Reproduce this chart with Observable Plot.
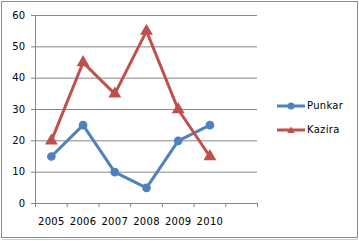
<!DOCTYPE html>
<html><head><meta charset="utf-8">
<script src="https://cdn.jsdelivr.net/npm/d3@7"></script>
<script src="https://cdn.jsdelivr.net/npm/@observablehq/plot@0.6"></script>
<style>
body{margin:0;background:#fff;}
#wrap{position:relative;width:359px;height:241px;overflow:hidden;font-family:"DejaVu Sans",sans-serif;}
#frame{position:absolute;left:1px;top:1px;width:355px;height:235px;border:1px solid #8c8c8c;}
#shadow{position:absolute;left:2px;top:239px;width:356px;height:1px;background:#d0d0d0;}
#chart{position:absolute;left:0;top:0;}
.leg{position:absolute;left:277px;font-size:10px;line-height:12px;display:flex;align-items:center;letter-spacing:0.3px;}
.leg span{margin-left:1px;}
</style></head>
<body><div id="wrap"><div id="frame"></div><div id="shadow"></div><div id="chart"></div><div id="legend"></div></div>
<script>
const years = [2005, 2006, 2007, 2008, 2009, 2010];
const punkar = [15, 25, 10, 5, 20, 25];
const kazira = [20, 45, 35, 55, 30, 15];
const seriesNames = ["Punkar", "Kazira"];
const colors = ["#4F81BD", "#C0504D"];
const yTicks = [0, 10, 20, 30, 40, 50, 60];

const data = [
  ...years.map((y, i) => ({year: y, value: punkar[i], s: seriesNames[0]})),
  ...years.map((y, i) => ({year: y, value: kazira[i], s: seriesNames[1]}))
];
const bounds = d3.range(years[0] - 0.5, years[years.length - 1] + 1.6, 1);
const gridCol = "#868686";

const chart = Plot.plot({
  width: 359, height: 241,
  marginLeft: 35, marginRight: 102, marginTop: 15, marginBottom: 38,
  style: {fontFamily: "DejaVu Sans", fontSize: "10px", color: "#000", background: "transparent", letterSpacing: "0.3px"},
  x: {type: "linear", domain: [bounds[0], bounds[bounds.length - 1]], axis: null},
  y: {domain: [0, 60], axis: null},
  marks: [
    Plot.ruleY(yTicks.slice(1), {stroke: gridCol, strokeWidth: 1}),
    Plot.ruleY([0], {stroke: gridCol}),
    Plot.ruleX([bounds[0]], {y1: 0, y2: 60, stroke: gridCol}),
    Plot.axisY({ticks: yTicks, tickSize: 4, tickPadding: 6, stroke: gridCol, fill: "#000", label: null, tickFormat: d => d}),
    Plot.axisX({ticks: bounds, tickSize: 4, stroke: gridCol, tickFormat: () => "", label: null}),
    Plot.axisX({ticks: years, tickSize: 0, tickPadding: 14, fill: "#000", tickFormat: d => String(d), label: null}),
    Plot.line(data, {x: "year", y: "value", z: "s", stroke: d => colors[seriesNames.indexOf(d.s)], strokeWidth: 3}),
    Plot.dot(data.filter(d => d.s === seriesNames[0]), {x: "year", y: "value", r: 3.6, fill: colors[0], stroke: colors[0], symbol: "circle"}),
    Plot.dot(data.filter(d => d.s === seriesNames[1]), {x: "year", y: "value", r: 3.8, fill: colors[1], stroke: colors[1], symbol: "triangle"})
  ]
});
document.getElementById("chart").appendChild(chart);

const legend = document.getElementById("legend");
const legTops = [100, 124];
seriesNames.forEach((name, i) => {
  const div = document.createElement("div");
  div.className = "leg";
  div.style.top = legTops[i] + "px";
  const marker = i === 0
    ? `<circle cx="14" cy="6" r="3.5" fill="${colors[i]}"/>`
    : `<path d="M14,2.5 L17.8,9 L10.2,9 Z" fill="${colors[i]}"/>`;
  div.innerHTML = `<svg width="29" height="12"><line x1="0" x2="28" y1="6" y2="6" stroke="${colors[i]}" stroke-width="3"/>${marker}</svg><span>${name}</span>`;
  legend.appendChild(div);
});
</script></body></html>
